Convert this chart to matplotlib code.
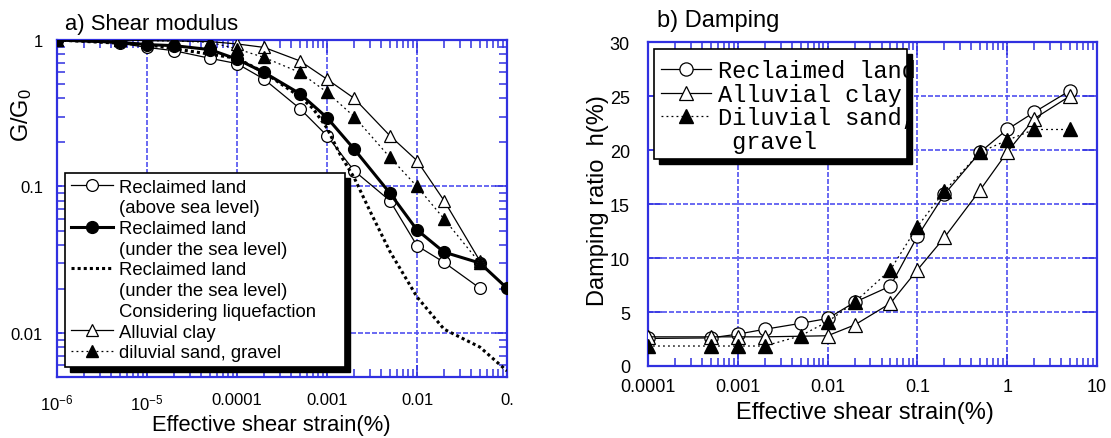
import matplotlib.pyplot as plt
from matplotlib.lines import Line2D
from matplotlib.patches import Rectangle
from matplotlib.ticker import FixedLocator, LogLocator, NullFormatter, FixedFormatter

plt.rcParams['font.family'] = ['Liberation Sans', 'DejaVu Sans']
plt.rcParams['mathtext.fontset'] = 'custom'
plt.rcParams['mathtext.rm'] = 'Liberation Sans'
plt.rcParams['mathtext.it'] = 'Liberation Sans:italic'
plt.rcParams['mathtext.bf'] = 'Liberation Sans:bold'

# a) shear modulus data
strain_g = [1e-6, 5e-6, 1e-5, 2e-5, 5e-5, 1e-4, 2e-4, 5e-4, 1e-3, 2e-3, 5e-3, 1e-2, 2e-2, 5e-2]
reclaimed_above = [1.0, 0.95, 0.89, 0.845, 0.75, 0.69, 0.54, 0.34, 0.222, 0.128, 0.08, 0.0394, 0.0303, 0.0202]
strain_under = [1e-6, 5e-6, 1e-5, 2e-5, 5e-5, 1e-4, 2e-4, 5e-4, 1e-3, 2e-3, 5e-3, 1e-2, 2e-2, 5e-2, 1e-1]
reclaimed_under = [1.0, 0.965, 0.93, 0.915, 0.86, 0.74, 0.60, 0.43, 0.295, 0.18, 0.09, 0.0505, 0.0356, 0.030, 0.0202]
strain_liq = [1e-6, 1e-5, 1e-4, 2e-4, 5e-4, 7e-4, 1e-3, 1.4e-3, 2e-3, 3e-3, 5e-3, 1e-2, 2e-2, 5e-2, 1e-1]
reclaimed_liq = [1.0, 0.93, 0.75, 0.60, 0.41, 0.34, 0.25, 0.165, 0.115, 0.068, 0.036, 0.0176, 0.0106, 0.008, 0.0055]
alluvial_g = [1.0, 1.0, 0.99, 0.985, 0.975, 0.94, 0.89, 0.72, 0.54, 0.40, 0.222, 0.15, 0.08, 0.031]
diluvial_g = [1.0, 1.0, 0.99, 0.985, 0.965, 0.87, 0.76, 0.60, 0.44, 0.30, 0.158, 0.10, 0.06, 0.030]
xticks_g = [1e-6, 1e-5, 1e-4, 1e-3, 1e-2, 1e-1]
xlabels_g = ['$10^{-6}$', '$10^{-5}$', '0.0001', '0.001', '0.01', '0.']
yticks_g = [0.01, 0.1, 1]
ylabels_g = ['0.01', '0.1', '1']
legend_rows_g = [('Reclaimed land', 0), ('(above sea level)', None),
                 ('Reclaimed land', 1), ('(under the sea level)', None),
                 ('Reclaimed land', 2), ('(under the sea level)', None),
                 ('Considering liquefaction', None),
                 ('Alluvial clay', 3), ('diluvial sand, gravel', 4)]

# b) damping data
strain_h = [1e-4, 5e-4, 1e-3, 2e-3, 5e-3, 1e-2, 2e-2, 5e-2, 0.1, 0.2, 0.5, 1, 2, 5]
reclaimed_h = [2.55, 2.6, 2.95, 3.4, 3.95, 4.4, 5.9, 7.4, 12.0, 15.9, 19.8, 21.9, 23.5, 25.5]
strain_clay = [1e-4, 5e-4, 1e-3, 2e-3, 1e-2, 2e-2, 5e-2, 0.1, 0.2, 0.5, 1, 2, 5]
alluvial_h = [2.7, 2.7, 2.7, 2.7, 2.8, 3.8, 5.8, 8.9, 11.9, 16.3, 19.8, 22.9, 25.0]
diluvial_h = [1.85, 1.85, 1.85, 1.85, 2.8, 4.1, 5.9, 8.9, 12.9, 16.2, 19.8, 20.9, 21.9, 21.9]
xticks_h = [1e-4, 1e-3, 1e-2, 1e-1, 1, 10]
xlabels_h = ['0.0001', '0.001', '0.01', '0.1', '1', '10']
legend_rows_h = [('Reclaimed land', 0), ('Alluvial clay', 1),
                 ('Diluvial sand,', 2), (' gravel', None)]

blue = '#3030e0'
gridblue = '#5050f0'

fig = plt.figure(figsize=(11.11, 4.39), dpi=100)
ax1 = fig.add_axes([57/1111, 61/439, 450/1111, 337/439])
ax2 = fig.add_axes([648/1111, 72/439, 449/1111, 324/439])


def style_axes(ax, fs, pad_x, pad_y):
    for s in ax.spines.values():
        s.set_color(blue)
        s.set_linewidth(1.6)
    ax.tick_params(which='both', direction='in', top=True, right=True, color=blue, width=1.1)
    ax.tick_params(which='major', length=9)
    ax.tick_params(which='minor', length=6)
    ax.tick_params(axis='x', pad=pad_x, labelsize=fs)
    ax.tick_params(axis='y', pad=pad_y, labelsize=fs)
    ax.grid(True, which='major', color=gridblue, linestyle=(0, (3, 1.2)), linewidth=1.2)


def boxed_legend(ax, lines, rows, box, **kw):
    x0, x1, yb, yt = box
    ax.add_patch(Rectangle((x0 + 0.011, yb - 0.015), x1 - x0, yt - yb, transform=ax.transAxes,
                           facecolor='k', edgecolor='k', zorder=6, clip_on=False))
    ax.add_patch(Rectangle((x0, yb), x1 - x0, yt - yb, transform=ax.transAxes,
                           facecolor='white', edgecolor='k', lw=1.2, zorder=6.5, clip_on=False))
    blank = Line2D([], [], linestyle='none')
    handles = [lines[i] if i is not None else blank for _, i in rows]
    labels = [t for t, _ in rows]
    leg = ax.legend(handles, labels, loc='upper left', frameon=False, borderaxespad=0, **kw)
    leg.set_zorder(7)
    return leg


# ---- a) shear modulus
ax1.set_xscale('log')
ax1.set_yscale('log')
lines_g = []
lines_g += ax1.plot(strain_g, reclaimed_above, '-', color='k', lw=0.9, marker='o', ms=8.5,
                    mfc='white', mec='k', mew=0.9, zorder=3)
lines_g += ax1.plot(strain_under, reclaimed_under, '-', color='k', lw=2.2, marker='o', ms=8.5,
                    mfc='k', mec='k', zorder=3)
lines_g += ax1.plot(strain_liq, reclaimed_liq, color='k', lw=2.2, linestyle=(0, (1, 1)), zorder=3)
lines_g += ax1.plot(strain_g, alluvial_g, '-', color='k', lw=0.9, marker='^', ms=8.5,
                    mfc='white', mec='k', mew=0.9, zorder=3)
lines_g += ax1.plot(strain_g, diluvial_g, color='k', lw=0.9, linestyle=(0, (1.5, 2.5)),
                    marker='^', ms=8.5, mfc='k', mec='k', zorder=3)
ax1.set_xlim(1e-6, 1e-1)
ax1.set_ylim(0.005, 1)
ax1.xaxis.set_major_locator(FixedLocator(xticks_g))
ax1.xaxis.set_major_formatter(FixedFormatter(xlabels_g))
ax1.xaxis.set_minor_locator(LogLocator(base=10, subs=range(2, 10), numticks=20))
ax1.xaxis.set_minor_formatter(NullFormatter())
ax1.yaxis.set_major_locator(FixedLocator(yticks_g))
ax1.yaxis.set_major_formatter(FixedFormatter(ylabels_g))
ax1.yaxis.set_minor_locator(LogLocator(base=10, subs=range(2, 10), numticks=20))
ax1.yaxis.set_minor_formatter(NullFormatter())
style_axes(ax1, 12, 11, 10)
ax1.set_xlabel('Effective shear strain(%)', fontsize=15.8)
ax1.xaxis.set_label_coords(0.476, -0.11)
ax1.set_ylabel('G/G$_0$', fontsize=17)
ax1.yaxis.set_label_coords(-0.05, 0.78)
ax1.text(0.018, 1.033, 'a) Shear modulus', transform=ax1.transAxes, fontsize=15.8,
         ha='left', va='baseline')
boxed_legend(ax1, lines_g, legend_rows_g, (0.018, 0.640, 0.030, 0.605),
             bbox_to_anchor=(0.018, 0.605), fontsize=13.3, handlelength=2.3,
             handletextpad=0.3, labelspacing=0.2, borderpad=0.3)

# ---- b) damping
ax2.set_xscale('log')
lines_h = []
lines_h += ax2.plot(strain_h, reclaimed_h, '-', color='k', lw=0.9, marker='o', ms=9.5,
                    mfc='white', mec='k', mew=0.9, zorder=3)
lines_h += ax2.plot(strain_clay, alluvial_h, '-', color='k', lw=0.9, marker='^', ms=9.5,
                    mfc='white', mec='k', mew=0.9, zorder=3)
lines_h += ax2.plot(strain_h, diluvial_h, color='k', lw=0.9, linestyle=(0, (1.5, 2.5)),
                    marker='^', ms=9.5, mfc='k', mec='k', zorder=3)
ax2.set_xlim(1e-4, 10)
ax2.set_ylim(0, 30)
ax2.xaxis.set_major_locator(FixedLocator(xticks_h))
ax2.xaxis.set_major_formatter(FixedFormatter(xlabels_h))
ax2.xaxis.set_minor_locator(LogLocator(base=10, subs=range(2, 10), numticks=20))
ax2.xaxis.set_minor_formatter(NullFormatter())
ax2.set_yticks(range(0, 31, 5))
style_axes(ax2, 13, 9, 13)
ax2.tick_params(axis='y', which='major', length=10)
ax2.set_xlabel('Effective shear strain(%)', fontsize=17)
ax2.xaxis.set_label_coords(0.483, -0.108)
ax2.set_ylabel('Damping ratio  h(%)', fontsize=17)
ax2.yaxis.set_label_coords(-0.087, 0.515)
ax2.text(0.02, 1.05, 'b) Damping', transform=ax2.transAxes, fontsize=17,
         ha='left', va='baseline')
boxed_legend(ax2, lines_h, legend_rows_h, (0.013, 0.577, 0.639, 0.978),
             bbox_to_anchor=(0.013, 0.968), prop={'family': 'Liberation Mono', 'size': 17},
             handlelength=2.1, handletextpad=0.3, labelspacing=0.02, borderpad=0.3)

fig.savefig('out.png', dpi=100)
